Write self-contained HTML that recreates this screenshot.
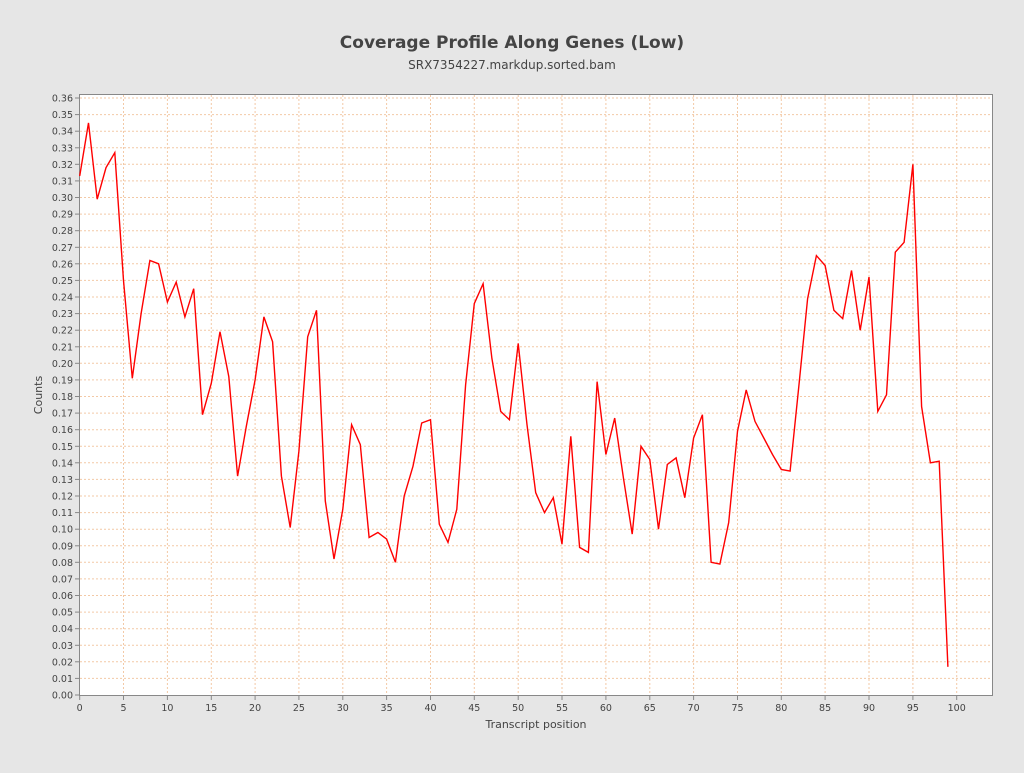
<!DOCTYPE html>
<html><head><meta charset="utf-8"><style>
body{margin:0;background:#e6e6e6;}
svg text{font-family:"DejaVu Sans","Liberation Sans",sans-serif;}
</style></head><body>
<svg id="s" width="1024" height="768" xmlns="http://www.w3.org/2000/svg">
<rect width="1024" height="768" fill="#e6e6e6"/>
<text x="512" y="48" text-anchor="middle" font-size="17" font-weight="bold" fill="#444">Coverage Profile Along Genes (Low)</text>
<text x="512" y="69" text-anchor="middle" font-size="12" fill="#444">SRX7354227.markdup.sorted.bam</text>
<rect x="79.5" y="94.5" width="913" height="601" fill="#fff" stroke="#888"/>
<g id="g"></g>
<text x="536" y="728" text-anchor="middle" font-size="11" fill="#444">Transcript position</text>
<text transform="translate(42,395) rotate(-90)" text-anchor="middle" font-size="11" fill="#444">Counts</text>
</svg>
<script>
var d=[0.313,0.345,0.299,0.318,0.327,0.25,0.191,0.23,0.262,0.26,0.237,0.249,0.228,0.245,0.169,0.188,0.219,0.192,0.132,0.162,0.19,0.228,0.213,0.132,0.101,0.147,0.216,0.232,0.117,0.082,0.112,0.163,0.151,0.095,0.098,0.094,0.080,0.120,0.138,0.164,0.166,0.103,0.092,0.112,0.187,0.236,0.248,0.203,0.171,0.166,0.212,0.163,0.122,0.110,0.119,0.091,0.156,0.089,0.086,0.189,0.145,0.167,0.131,0.097,0.150,0.142,0.100,0.139,0.143,0.119,0.155,0.169,0.080,0.079,0.104,0.159,0.184,0.165,0.155,0.145,0.136,0.135,0.186,0.239,0.265,0.259,0.232,0.227,0.256,0.220,0.252,0.171,0.181,0.267,0.273,0.320,0.174,0.140,0.141,0.017];
function X(i){return 79.7+i*8.77;}
function Y(v){return 695-v*1658.3;}
var h='';
for(var k=0;k<=36;k++){var y=Y(k/100).toFixed(1);
 if(k>0)h+='<line x1="80" x2="992" y1="'+y+'" y2="'+y+'" stroke="#f3c9a6" stroke-dasharray="2,2"/>';
 h+='<line x1="75" x2="79" y1="'+y+'" y2="'+y+'" stroke="#888"/>';
 h+='<text x="73" y="'+(+y+3.5)+'" text-anchor="end" font-size="9.5" fill="#444">'+(k/100).toFixed(2)+'</text>';}
for(var t=0;t<=100;t+=5){var x=X(t).toFixed(1);
 if(t>0)h+='<line y1="95" y2="695" x1="'+x+'" x2="'+x+'" stroke="#f3c9a6" stroke-dasharray="2,2"/>';
 h+='<line y1="696" y2="700" x1="'+x+'" x2="'+x+'" stroke="#888"/>';
 h+='<text y="711" x="'+x+'" text-anchor="middle" font-size="9.5" fill="#444">'+t+'</text>';}
var p=d.map(function(v,i){return X(i).toFixed(1)+','+Y(v).toFixed(1)}).join(' ');
h+='<polyline points="'+p+'" fill="none" stroke="#f00" stroke-width="1.4"/>';
document.getElementById('g').innerHTML=h;
</script>
</body></html>
